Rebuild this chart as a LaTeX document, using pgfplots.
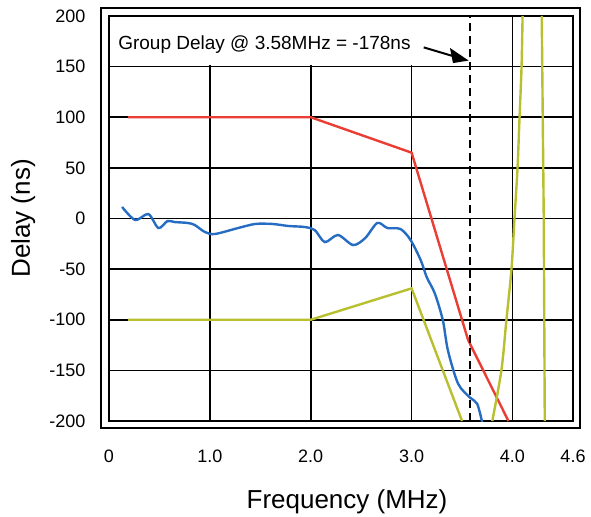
\documentclass[border=0pt]{standalone}
\usepackage{fontspec}
\setmainfont{Liberation Sans}
\usepackage{pgfplots}
\pgfplotsset{compat=1.18}
\usetikzlibrary{arrows.meta}
\definecolor{limred}{RGB}{234,62,52}
\definecolor{limgreen}{RGB}{184,192,48}
\definecolor{gdblue}{RGB}{38,108,194}

\begin{document}
\begin{tikzpicture}
\begin{axis}[
    name=ax,
    scale only axis,
    width=464bp, height=405bp,
    xmin=0, xmax=4.6,
    ymin=-200, ymax=200,
    xtick={0,1,2,3,4,4.6},
    xticklabels={0,1.0,2.0,3.0,4.0,4.6},
    ytick={-200,-150,...,200},
    grid=major,
    grid style={black, line width=1.7bp},
    axis line style={black, line width=1.7bp},
    tick style={black, line width=1.7bp},
    major tick length=7bp,
    tick align=inside,
    /pgf/number format/assume math mode=true,
    ticklabel style={font=\fontsize{18bp}{20bp}\selectfont},
    xticklabel style={yshift=-25bp},
    yticklabel style={xshift=-20bp},
    xlabel={Frequency (MHz)},
    ylabel={Delay (ns)},
    label style={font=\fontsize{26bp}{30bp}\selectfont},
    xlabel style={at={(axis description cs:0.513,-0.215)}, anchor=base},
    ylabel style={at={(axis description cs:-0.185,0.5)}, anchor=center},
]
% white box behind the annotation
\fill[white] (axis cs:0.015,151.2) rectangle (axis cs:3.57,199.2);
\draw[black, line width=1.7bp] (axis cs:1,200) -- ++(0,-7bp);
\draw[black, line width=1.7bp] (axis cs:2,200) -- ++(0,-7bp);
\draw[black, line width=1.7bp] (axis cs:3,200) -- ++(0,-7bp);

% upper limit
\addplot[limred, line width=2.4bp] coordinates {
  (0.19,100) (2.0,100) (3.0,65) (3.56,-120) (3.96,-200)
};
% lower limit
\addplot[limgreen, line width=2.4bp] coordinates {
  (0.19,-100) (2.0,-100) (3.0,-69) (3.50,-200)
};
\addplot[limgreen, line width=2.4bp, smooth] coordinates {
  (3.80,-200) (3.89,-150) (3.94,-100) (3.99,-50) (4.02,0)
  (4.05,50) (4.07,100) (4.09,150) (4.10,200)
};
\addplot[limgreen, line width=2.4bp] coordinates {
  (4.29,200) (4.31,0) (4.32,-200)
};
% measured group delay
\addplot[gdblue, line width=2.4bp, smooth, tension=0.5] coordinates {
  (0.13,11.4) (0.26,-1.5) (0.39,4.4) (0.49,-9.4) (0.58,-2.5)
  (0.65,-3.5) (0.78,-4.4) (0.85,-6.4) (0.95,-13.3) (1.05,-15.3)
  (1.28,-9.4) (1.45,-5.4) (1.62,-5.4) (1.78,-7.4) (1.94,-8.4)
  (2.04,-11.4) (2.14,-23.3) (2.27,-16.3) (2.42,-26.2) (2.54,-19.3)
  (2.66,-4.4) (2.76,-9.4) (2.89,-10.4) (2.99,-21.3) (3.09,-41.1)
  (3.15,-58) (3.23,-74) (3.31,-100.7) (3.36,-130.3) (3.46,-163)
  (3.58,-177) (3.65,-183) (3.70,-201.5)
};
% marker at 3.58 MHz
\addplot[black, line width=1.7bp, dash pattern=on 8bp off 5bp] coordinates {
  (3.58,-200) (3.58,200)
};

\node[anchor=base west, inner sep=0pt, font=\fontsize{19bp}{22bp}\selectfont]
  at (axis cs:0.09,166.5) {Group Delay @ 3.58MHz = -178ns};
\draw[black, line width=2bp] (axis cs:3.12,169) -- (axis cs:3.40,160.7);
\fill[black] (axis cs:3.565,156) -- (axis cs:3.38,168.5) -- (axis cs:3.41,153.5) -- cycle;
\end{axis}
% outer frame
\draw[black, line width=1.7bp]
  ([shift={(-8bp,8bp)}]ax.north west) rectangle ([shift={(7bp,-7bp)}]ax.south east);
\path ([shift={(-109bp,-93bp)}]ax.south west) rectangle ([shift={(18bp,16bp)}]ax.north east);
\end{tikzpicture}
\end{document}
